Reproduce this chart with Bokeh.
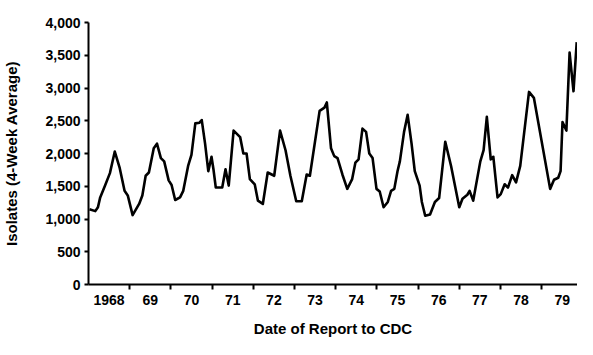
from bokeh.plotting import figure
from bokeh.models import Range1d, FixedTicker, NumeralTickFormatter
from bokeh.embed import file_html
from bokeh.resources import INLINE

# Date of report (decimal year) and 4-week average isolates
years = [
    1968.024, 1968.165, 1968.229, 1968.284, 1968.402, 1968.520, 1968.638, 1968.757, 1968.875, 1968.953,
    1969.071, 1969.229, 1969.307, 1969.388, 1969.466, 1969.584, 1969.662, 1969.757, 1969.837, 1969.946,
    1970.017, 1970.104, 1970.222, 1970.300, 1970.418, 1970.499, 1970.593, 1970.695, 1970.749, 1970.830,
    1970.908, 1970.986, 1971.033, 1971.090, 1971.246, 1971.326, 1971.404, 1971.522, 1971.681, 1971.759,
    1971.837, 1971.917, 1972.035, 1972.113, 1972.232, 1972.350, 1972.508, 1972.650, 1972.783, 1972.901,
    1973.043, 1973.177, 1973.296, 1973.374, 1973.610, 1973.728, 1973.785, 1973.887, 1973.965, 1974.045,
    1974.163, 1974.281, 1974.400, 1974.478, 1974.556, 1974.650, 1974.738, 1974.816, 1974.896, 1974.991,
    1975.069, 1975.163, 1975.265, 1975.345, 1975.423, 1975.501, 1975.558, 1975.660, 1975.747, 1975.842,
    1975.920, 1976.038, 1976.092, 1976.173, 1976.291, 1976.409, 1976.511, 1976.660, 1976.801, 1977.000,
    1977.078, 1977.196, 1977.251, 1977.338, 1977.511, 1977.591, 1977.669, 1977.764, 1977.827, 1977.929,
    1978.007, 1978.102, 1978.182, 1978.284, 1978.378, 1978.480, 1978.693, 1978.811, 1979.206, 1979.300,
    1979.402, 1979.459, 1979.506, 1979.600, 1979.678, 1979.773, 1979.851,
]
isolates = [
    1150, 1120, 1180, 1330, 1510, 1700, 2030, 1780, 1430, 1360,
    1060, 1230, 1360, 1660, 1710, 2080, 2150, 1930, 1880, 1590,
    1520, 1290, 1330, 1430, 1810, 1980, 2460, 2470, 2510, 2150,
    1730, 1950, 1760, 1480, 1480, 1760, 1510, 2350, 2250, 2000,
    2000, 1610, 1530, 1280, 1230, 1710, 1660, 2350, 2050, 1660,
    1270, 1270, 1680, 1660, 2650, 2700, 2780, 2080, 1960, 1930,
    1680, 1460, 1610, 1860, 1910, 2380, 2330, 2000, 1930, 1460,
    1420, 1180, 1260, 1430, 1460, 1730, 1880, 2330, 2590, 2150,
    1730, 1510, 1260, 1050, 1070, 1260, 1320, 2180, 1810, 1180,
    1310, 1370, 1430, 1280, 1880, 2050, 2560, 1910, 1950, 1330,
    1380, 1530, 1480, 1670, 1560, 1810, 2940, 2850, 1460, 1600,
    1630, 1730, 2480, 2350, 3540, 2950, 3700,
]

year_bounds = [1969, 1970, 1971, 1972, 1973, 1974, 1975, 1976, 1977, 1978, 1979]
year_mids = [1968.5, 1969.5, 1970.5, 1971.5, 1972.5, 1973.5, 1974.5, 1975.5, 1976.5, 1977.5, 1978.5, 1979.5]
year_labels = ["1968", "69", "70", "71", "72", "73", "74", "75", "76", "77", "78", "79"]
y_ticks = [0, 500, 1000, 1500, 2000, 2500, 3000, 3500, 4000]
x_title = "Date of Report to CDC"
y_title = "Isolates (4-Week Average)"

FONT = "Liberation Sans"
X0, X1 = 1968.0, 1979.87

p = figure(width=577, height=339, output_backend="svg", toolbar_location=None,
           x_range=Range1d(X0, X1), y_range=Range1d(0, 4000))
p.min_border_left = 88
p.min_border_right = 0
p.min_border_top = 22
p.min_border_bottom = 52
p.outline_line_color = None
p.xgrid.grid_line_color = None
p.ygrid.grid_line_color = None
p.background_fill_color = "white"
p.border_fill_color = "white"

p.line(years, isolates, line_color="black", line_width=2.6, line_join="round")

xa = p.xaxis[0]
xa.ticker = FixedTicker(ticks=year_mids, minor_ticks=year_bounds)
xa.major_label_overrides = {m: l for m, l in zip(year_mids, year_labels)}
xa.major_tick_out = 0
xa.major_tick_in = 0
xa.minor_tick_out = 5
xa.minor_tick_in = 0
xa.minor_tick_line_width = 2
xa.minor_tick_line_color = "black"
xa.axis_line_width = 2
xa.axis_line_color = "black"
xa.major_label_standoff = 5
xa.major_label_text_font = FONT
xa.major_label_text_font_style = "bold"
xa.major_label_text_font_size = "14px"
xa.major_label_text_color = "black"
xa.axis_label = x_title
xa.axis_label_text_font = FONT
xa.axis_label_text_font_style = "bold"
xa.axis_label_text_font_size = "15px"
xa.axis_label_text_color = "black"
xa.axis_label_standoff = 12

ya = p.yaxis[0]
ya.ticker = FixedTicker(ticks=y_ticks, minor_ticks=[])
ya.formatter = NumeralTickFormatter(format="0,0")
ya.major_tick_out = 4
ya.major_tick_in = 0
ya.major_tick_line_width = 2
ya.major_tick_line_color = "black"
ya.minor_tick_out = 0
ya.minor_tick_in = 0
ya.axis_line_width = 2
ya.axis_line_color = "black"
ya.major_label_standoff = 4
ya.major_label_text_font = FONT
ya.major_label_text_font_style = "bold"
ya.major_label_text_font_size = "14px"
ya.major_label_text_color = "black"
ya.axis_label = y_title
ya.axis_label_text_font = FONT
ya.axis_label_text_font_style = "bold"
ya.axis_label_text_font_size = "15px"
ya.axis_label_text_color = "black"
ya.axis_label_standoff = 22

open("out.html", "w").write(file_html(p, INLINE))
